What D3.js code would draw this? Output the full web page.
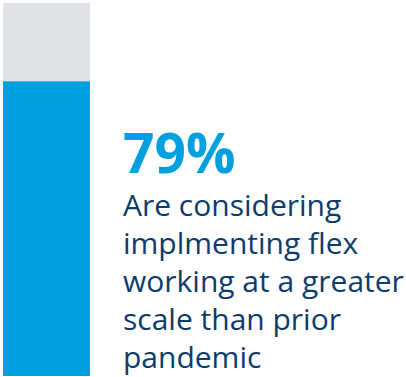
<!DOCTYPE html>
<html>
<head>
<meta charset="utf-8">
<script src="https://cdn.jsdelivr.net/npm/d3@7"></script>
<style>
  html, body { margin: 0; padding: 0; background: #ffffff; }
  svg { display: block; }
</style>
</head>
<body>
<svg id="chart" width="406" height="377"></svg>
<script>
// Share of respondents, stacked against the full 100% track
const share = [79];
const scaleMax = [100];
const valueLabel = ["79%"];
const captionLines = [
  "Are considering",
  "implmenting flex",
  "working at a greater",
  "scale than prior",
  "pandemic"
];

const width = 406, height = 377;
const svg = d3.select("#chart");

const y = d3.scaleLinear().domain([0, scaleMax[0]]).range([376, 3]);
const x = d3.scaleBand().domain(["bar"]).range([3, 90]).padding(0);

// full-scale track
svg.append("rect")
  .attr("x", x("bar"))
  .attr("width", x.bandwidth())
  .attr("y", y(scaleMax[0]))
  .attr("height", y(0) - y(scaleMax[0]))
  .attr("fill", "#e1e2e6");

// value bar
svg.selectAll("rect.value")
  .data(share)
  .join("rect")
  .attr("class", "value")
  .attr("x", x("bar"))
  .attr("width", x.bandwidth())
  .attr("y", d => y(d))
  .attr("height", d => y(0) - y(d))
  .attr("fill", "#009fe0");

const textX = 123;

svg.append("text")
  .attr("x", textX)
  .attr("y", 173)
  .attr("font-family", "'Open Sans', sans-serif")
  .attr("font-weight", 700)
  .attr("font-size", 55)
  .attr("fill", "#009fe0")
  .text(valueLabel[0]);

svg.append("g")
  .selectAll("text")
  .data(captionLines)
  .join("text")
  .attr("x", textX)
  .attr("y", (d, i) => 216 + i * 38)
  .attr("font-family", "'Open Sans', sans-serif")
  .attr("font-size", 30)
  .attr("fill", "#0c3c6c")
  .text(d => d);
</script>
</body>
</html>
